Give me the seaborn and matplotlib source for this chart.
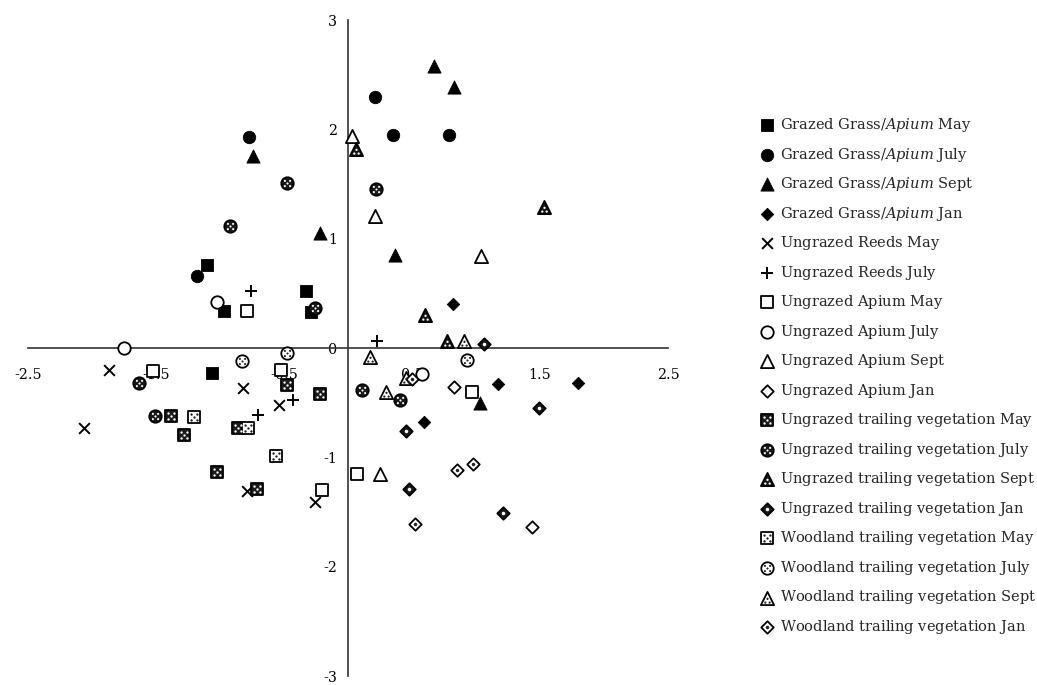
import matplotlib
matplotlib.use("Agg")
import matplotlib.pyplot as plt
from matplotlib.path import Path
from matplotlib.markers import MarkerStyle
from matplotlib.legend_handler import HandlerTuple
import seaborn as sns

# ---- ordination scores (axis 1, axis 2) per habitat / sampling month ----
grazed_may_x = [-1.10, -0.97, -0.33, -0.29, -1.06]
grazed_may_y = [0.76, 0.34, 0.52, 0.33, -0.23]
grazed_jul_x = [-0.77, -1.18, 0.21, 0.35, 0.79]
grazed_jul_y = [1.93, 0.66, 2.30, 1.95, 1.95]
grazed_sep_x = [-0.74, 0.67, 0.83, 0.37, -0.22, 1.03]
grazed_sep_y = [1.76, 2.58, 2.39, 0.85, 1.05, -0.50]
grazed_jan_x = [0.82, 0.59, 1.17, 1.80]
grazed_jan_y = [0.40, -0.68, -0.33, -0.32]

reeds_may_x = [-1.87, -2.06, -0.82, -0.54, -0.79, -0.26]
reeds_may_y = [-0.20, -0.73, -0.37, -0.52, -1.31, -1.41]
reeds_jul_x = [-0.76, 0.23, -0.70, -0.43]
reeds_jul_y = [0.52, 0.06, -0.61, -0.48]

apium_may_x = [-0.79, -1.52, -0.52, -0.20, 0.07, 0.97]
apium_may_y = [0.34, -0.21, -0.20, -1.30, -1.15, -0.40]
apium_jul_x = [-1.75, -1.02, 0.58]
apium_jul_y = [0.00, 0.42, -0.24]
apium_sep_x = [0.03, 0.21, 1.04, 0.25]
apium_sep_y = [1.94, 1.21, 0.84, -1.15]
apium_jan_x = [0.83, 1.44]
apium_jan_y = [-0.36, -1.64]

utrail_may_x = [-1.38, -1.28, -1.02, -0.48, -0.22, -0.86, -0.71]
utrail_may_y = [-0.62, -0.80, -1.13, -0.34, -0.42, -0.73, -1.29]
utrail_jul_x = [-0.48, -0.92, -1.63, -1.51, 0.22, 0.11, 0.41, -0.26]
utrail_jul_y = [1.51, 1.12, -0.32, -0.62, 1.45, -0.38, -0.48, 0.37]
utrail_sep_x = [0.06, 1.53, 0.60, 0.77]
utrail_sep_y = [1.82, 1.29, 0.30, 0.06]
utrail_jan_x = [0.45, 1.49, 0.48, 1.21, 1.06]
utrail_jan_y = [-0.76, -0.55, -1.29, -1.51, 0.04]

wood_may_x = [-1.20, -0.78, -0.56]
wood_may_y = [-0.63, -0.73, -0.99]
wood_jul_x = [-0.83, -0.48, 0.93]
wood_jul_y = [-0.12, -0.05, -0.11]
wood_sep_x = [0.91, 0.17, 0.30, 0.45]
wood_sep_y = [0.06, -0.08, -0.40, -0.27]
wood_jan_x = [0.85, 0.98, 0.52, 0.50]
wood_jan_y = [-1.12, -1.06, -1.61, -0.28]

x_ticks = [-2.5, -1.5, -0.5, 0.5, 1.5, 2.5]
x_tick_labels = ["-2.5", "-1.5", "-0.5", "0.5", "1.5", "2.5"]
y_ticks = [-3, -2, -1, 0, 1, 2, 3]
y_tick_labels = ["-3", "-2", "-1", "0", "1", "2", "3"]

series_labels = [
    "Grazed Grass/*Apium* May",
    "Grazed Grass/*Apium* July",
    "Grazed Grass/*Apium* Sept",
    "Grazed Grass/*Apium* Jan",
    "Ungrazed Reeds May",
    "Ungrazed Reeds July",
    "Ungrazed Apium May",
    "Ungrazed Apium July",
    "Ungrazed Apium Sept",
    "Ungrazed Apium Jan",
    "Ungrazed trailing vegetation May",
    "Ungrazed trailing vegetation July",
    "Ungrazed trailing vegetation Sept",
    "Ungrazed trailing vegetation Jan",
    "Woodland trailing vegetation May",
    "Woodland trailing vegetation July",
    "Woodland trailing vegetation Sept",
    "Woodland trailing vegetation Jan",
]
series_x = [grazed_may_x, grazed_jul_x, grazed_sep_x, grazed_jan_x,
            reeds_may_x, reeds_jul_x,
            apium_may_x, apium_jul_x, apium_sep_x, apium_jan_x,
            utrail_may_x, utrail_jul_x, utrail_sep_x, utrail_jan_x,
            wood_may_x, wood_jul_x, wood_sep_x, wood_jan_x]
series_y = [grazed_may_y, grazed_jul_y, grazed_sep_y, grazed_jan_y,
            reeds_may_y, reeds_jul_y,
            apium_may_y, apium_jul_y, apium_sep_y, apium_jan_y,
            utrail_may_y, utrail_jul_y, utrail_sep_y, utrail_jan_y,
            wood_may_y, wood_jul_y, wood_sep_y, wood_jan_y]
series_shape = ["s", "o", "^", "D", "x", "+",
                "s", "o", "^", "D", "s", "o", "^", "D", "s", "o", "^", "D"]
series_kind = ["solid"] * 4 + ["line"] * 2 + ["open"] * 4 + ["dark"] * 4 + ["light"] * 4


def math_label(text):
    """Render a label in mathtext so every legend row has the same height;
    words wrapped in *...* are set in italic."""
    parts = text.split("*")
    out = []
    for i, part in enumerate(parts):
        if not part:
            continue
        body = part.replace(" ", "\\ ")
        out.append(("\\mathit{%s}" if i % 2 else "\\mathrm{%s}") % body)
    return "$" + "".join(out) + "$"


# marker area (pt^2) and half-extent of the normalised marker path
BASE_SIZE = {"s": 72, "o": 80, "^": 90, "D": 40, "x": 60, "+": 75}
HALF = {"s": 0.5, "o": 0.5, "^": 0.5, "D": 0.7071}

# dotted texture inside patterned markers, in units where the marker spans +-1
DOTS = {
    "s": ([(-0.5, -0.5), (0.5, -0.5), (-0.5, 0.5), (0.5, 0.5), (0, 0)], 0.2),
    "o": ([(-0.42, -0.42), (0.42, -0.42), (-0.42, 0.42), (0.42, 0.42), (0, 0)], 0.17),
    "^": ([(-0.33, -0.62), (0.33, -0.62), (0, -0.05)], 0.17),
    "D": ([(0, 0)], 0.28),
}


def dot_style(shape):
    centres, r = DOTS[shape]
    path = Path.make_compound_path(*[Path.circle(c, r) for c in centres])
    extent = max(max(abs(cx), abs(cy)) + r for cx, cy in centres)
    size = BASE_SIZE[shape] * (2 * HALF[shape] * extent) ** 2
    return MarkerStyle(path), size


sns.set_theme(style="white")
plt.rcParams["font.family"] = ["DejaVu Serif"]
plt.rcParams["mathtext.fontset"] = "dejavuserif"

fig = plt.figure(figsize=(10.37, 6.85), dpi=100)
ax = fig.add_axes([28 / 1037, 9 / 685, 640 / 1037, 656 / 685])

handles, labels = [], []
for label, xs, ys, shape, kind in zip(series_labels, series_x, series_y,
                                      series_shape, series_kind):
    s = BASE_SIZE[shape]
    if kind == "line":
        sns.scatterplot(x=xs, y=ys, marker=shape, s=s, color="black",
                        linewidth=1.4, ax=ax, zorder=3)
        handles.append(ax.collections[-1])
    else:
        face = {"solid": "black", "open": "white", "dark": "#1a1a1a",
                "light": "white"}[kind]
        lw = 0.6 if kind == "solid" else 1.3
        sns.scatterplot(x=xs, y=ys, marker=shape, s=s, facecolor=face,
                        edgecolor="black", linewidth=lw, ax=ax, zorder=3)
        base = ax.collections[-1]
        if kind in ("dark", "light"):
            dot_marker, dot_size = dot_style(shape)
            dot_col = "white" if kind == "dark" else "#222222"
            sns.scatterplot(x=xs, y=ys, marker=dot_marker, s=dot_size,
                            color=dot_col, linewidth=0, ax=ax, zorder=4)
            handles.append((base, ax.collections[-1]))
        else:
            handles.append(base)
    labels.append(math_label(label))

ax.set_xlim(-2.5, 2.5)
ax.set_ylim(-3, 3)
ax.spines["left"].set_position(("data", 0))
ax.spines["bottom"].set_position(("data", 0))
for side in ("top", "right"):
    ax.spines[side].set_visible(False)
for side in ("left", "bottom"):
    ax.spines[side].set_color("#333333")
    ax.spines[side].set_linewidth(1.2)
    ax.spines[side].set_zorder(2.5)

ax.set_xticks(x_ticks)
ax.set_xticklabels(x_tick_labels)
ax.set_yticks(y_ticks)
ax.set_yticklabels(y_tick_labels)
ax.tick_params(axis="both", direction="inout", length=7.5, width=1.1,
               color="#333333", labelsize=10.3, labelcolor="black")
ax.tick_params(axis="x", pad=10.5)
ax.tick_params(axis="y", pad=4.2)
ax.patch.set_visible(False)

fig.legend(handles, labels, loc="upper left",
           bbox_to_anchor=(760 / 1037, 1 - 116 / 685),
           frameon=False, fontsize=10.5, handlelength=1.0,
           handletextpad=0.35, labelspacing=0.79, borderpad=0,
           borderaxespad=0, scatterpoints=1,
           handler_map={tuple: HandlerTuple(ndivide=1)})

fig.savefig("out.png", dpi=100)
